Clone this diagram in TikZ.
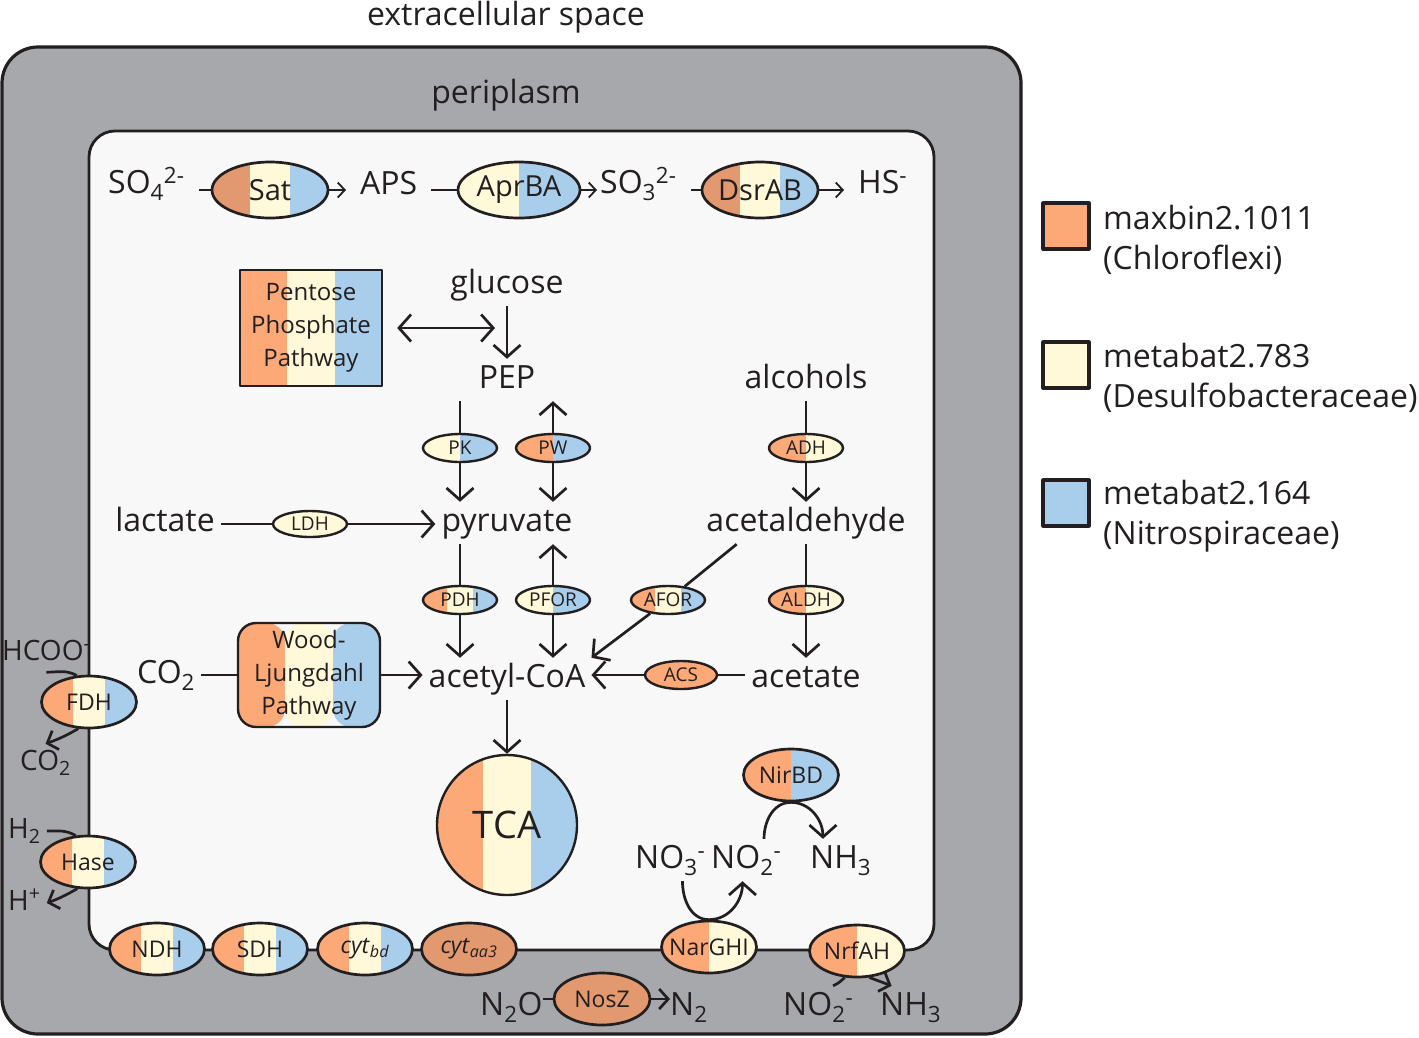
\documentclass[tikz,border=0pt]{standalone}
\usepackage{fontspec}
\setmainfont{Open Sans}
\usepackage{tikz}
\usetikzlibrary{arrows.meta}
\usetikzlibrary{shapes.geometric}
\usetikzlibrary{calc}
\definecolor{org}{HTML}{FCA877}
\definecolor{orgd}{HTML}{E3996F}
\definecolor{crm}{HTML}{FFF8D9}
\definecolor{blu}{HTML}{A9CEEC}
\definecolor{peri}{HTML}{A7A8AB}
\definecolor{cyto}{HTML}{F8F8F8}
\definecolor{ink}{HTML}{231F20}
\newcommand{\band}[3]{\fill[#3] ($(path picture bounding box.south west)!#1!(path picture bounding box.south east)$) rectangle ($(path picture bounding box.north west)!#2!(path picture bounding box.north east)$);}
\newcommand{\sbs}[1]{\textsubscript{#1}}
\newcommand{\sps}[1]{\textsuperscript{#1}}
\tikzset{lb/.style={font=\fontsize{32}{36}\selectfont, text height=23pt, text depth=7pt, inner sep=6pt, anchor=base}}
\tikzset{tp/.style={lb, inner xsep=14pt, anchor=base west}}
\tikzset{sm/.style={font=\fontsize{28}{32}\selectfont, text height=20pt, text depth=6pt, inner sep=6pt, anchor=base west}}
\tikzset{en/.style={ellipse, draw=ink, line width=2.7pt, inner xsep=-8pt, inner ysep=-4pt}}
\tikzset{big/.style={en, minimum width=116, minimum height=56, font=\fontsize{29}{30}\selectfont}}
\tikzset{mem/.style={en, minimum width=95, minimum height=52, font=\fontsize{23}{24}\selectfont}}
\tikzset{sml/.style={en, line width=2.4pt, minimum width=74, minimum height=28, font=\fontsize{19}{20}\selectfont}}
\tikzset{box/.style={draw=ink, line width=2.4pt, minimum width=142, align=center, font=\fontsize{24}{33}\selectfont}}
\tikzset{ocb/.style={path picture={\band{0}{0.33}{org}\band{0.33}{0.67}{crm}\band{0.67}{1}{blu}}}}
\tikzset{dcb/.style={path picture={\band{0}{0.33}{orgd}\band{0.33}{0.67}{crm}\band{0.67}{1}{blu}}}}
\tikzset{oc/.style={path picture={\band{0}{0.5}{org}\band{0.5}{1}{crm}}}}
\tikzset{ob/.style={path picture={\band{0}{0.5}{org}\band{0.5}{1}{blu}}}}
\tikzset{cb/.style={path picture={\band{0}{0.5}{crm}\band{0.5}{1}{blu}}}}
\tikzset{ln/.style={line width=2.7pt}}
\tikzset{ar/.style={line width=2.7pt, -{Straight Barb[length=12pt,width=27pt]}}}
\tikzset{dar/.style={line width=2.7pt, {Straight Barb[length=12pt,width=27pt]}-{Straight Barb[length=12pt,width=27pt]}}}
\tikzset{mar/.style={line width=2.7pt, -{Straight Barb[length=9pt,width=20pt]}}}
\tikzset{sln/.style={line width=1.8pt}}
\tikzset{sar/.style={line width=1.8pt, -{Straight Barb[length=7pt,width=15pt]}}}

\begin{document}
\begin{tikzpicture}[line join=round,x=1pt,y=-1pt,color=ink]
  \useasboundingbox (0,0) rectangle (1419,1037);
  \draw[fill=peri, line width=3.2pt, rounded corners=36pt] (2,47) rectangle (1021,1034);
  \draw[fill=cyto, line width=2.8pt, rounded corners=26pt] (89,131) rectangle (934,950);
  \node[lb] (ecs) at (506,25) {extracellular space};
  \node[lb] (prp) at (506,103) {periplasm};

  \node[tp] (SO4) at (94,193) {SO\sbs{4}\sps{2-}};
  \node[big, dcb] (Sat) at (270,190) {Sat}
    edge [sln] (SO4.east |- Sat);
  \node[tp] (APS) at (346,194) {APS};
  \draw[sar] (Sat) -- (APS.west |- Sat);
  \node[big, cb, minimum width=122] (Apr) at (519,190) {AprBA}
    edge [sln] (APS.east |- Apr);
  \node[tp] (SO3) at (586,193) {SO\sbs{3}\sps{2-}};
  \draw[sar] (Apr) -- ([xshift=11pt]SO3.west |- Apr);
  \node[big, dcb] (Dsr) at (760,190) {DsrAB}
    edge [sln] (SO3.east |- Dsr);
  \node[tp] (HS) at (844,193) {HS\sps{-}};
  \draw[sar] (Dsr) -- (HS.west |- Dsr);

  \node[lb] (glc) at (507,293) {glucose};
  \node[lb] (PEP) at (507,388) {PEP};
  \draw[ar] (glc) -- (PEP);
  \node[box, ocb, minimum height=116] (PPP) at (311,328) {Pentose\\Phosphate\\Pathway};
  \draw[dar] ([xshift=14pt]PPP.east) -- ([xshift=-12pt]glc.south |- PPP.east);
  \node[lb] (alc) at (806,388) {alcohols};
  \node[sml, cb] (PK) at (460,448) {PK};
  \node[sml, ob] (PW) at (553,448) {PW};
  \node[sml, oc] (ADH) at (806,448) {ADH};
  \node[lb] (pyr) at (507,531) {pyruvate};
  \node[lb] (acald) at (806,531) {acetaldehyde};
  \node[lb] (lac) at (165,531) {lactate};
  \node[sml, fill=crm, minimum height=26] (LDH) at (310,524) {LDH};
  \draw[ln] (PK |- PEP.south) -- (PK);
  \draw[ar] (PK) -- (PK |- pyr.north);
  \draw[ar] (PW) -- (PW |- PEP.south);
  \draw[ar] (PW) -- (PW |- pyr.north);
  \draw[ln] (alc) -- (ADH);
  \draw[ar] (ADH) -- (acald);
  \draw[ln] (lac.east |- LDH) -- (LDH);
  \draw[ar] (LDH) -- (pyr.west |- LDH);

  \node[sml, ocb] (PDH) at (460,600) {PDH};
  \node[sml, cb] (PFOR) at (553,600) {PFOR};
  \node[sml, ocb] (AFOR) at (668,600) {AFOR};
  \node[sml, oc] (ALDH) at (806,600) {ALDH};
  \node[lb] (acCoA) at (507,687) {acetyl-CoA};
  \node[lb] (acet) at (806,687) {acetate};
  \node[sml, fill=org, minimum width=72] (ACS) at (681,675) {ACS};
  \draw[ln] (PDH |- pyr.south) -- (PDH);
  \draw[ar] (PDH) -- (PDH |- acCoA.north);
  \draw[ar] (PFOR) -- (PFOR |- pyr.south);
  \draw[ar] (PFOR) -- (PFOR |- acCoA.north);
  \draw[ln] (acald.-163) -- (AFOR);
  \draw[ar] (AFOR) -- (acCoA.north east);
  \draw[ln] (acald) -- (ALDH);
  \draw[ar] (ALDH) -- (acet);
  \draw[ln] (acet.west |- ACS) -- (ACS);
  \draw[ar] (ACS) -- (acCoA.east |- ACS);

  \node[lb, anchor=base west] (CO2) at (131,683) {CO\sbs{2}};
  \node[box, ocb, rounded corners=18pt, minimum height=104] (WLP) at (309,675) {Wood-\\Ljungdahl\\Pathway};
  \draw[ln] (CO2.east |- WLP) -- (WLP);
  \draw[ar] (WLP) -- (acCoA.west |- WLP);
  \node[circle, draw=ink, line width=2.4pt, ocb, minimum size=140, inner sep=0pt, font=\fontsize{38}{40}\selectfont] (TCA) at (507,825) {TCA};
  \draw[ar] (acCoA) -- (TCA);

  \node[sm] (HCOO) at (-4,660) {HCOO\sps{-}};
  \node[mem, ocb] (FDH) at (89,702) {FDH};
  \node[sm] (CO2b) at (14,770) {CO\sbs{2}};
  \draw[ln] (HCOO.south) to[out=0,in=150] (FDH.115);
  \draw[mar] (FDH.-112) to[out=-150,in=20] (CO2b.north);
  \node[sm] (H2) at (2,838) {H\sbs{2}};
  \node[mem, ocb] (Hase) at (88,862) {Hase};
  \node[sm] (Hp) at (2,910) {H\sps{+}};
  \draw[ln] (H2.east) to[out=0,in=150] (Hase.115);
  \draw[mar] (Hase.-112) to[out=-150,in=20] (Hp.east);

  \node[mem, ocb] (NDH) at (157,949) {NDH};
  \node[mem, ocb] (SDH) at (260,949) {SDH};
  \node[mem, ocb] (cytbd) at (365,949) {\textit{cyt}\sbs{\textit{bd}}};
  \node[mem, fill=orgd] (cytaa) at (469,949) {\textit{cyt}\sbs{\textit{aa3}}};
  \node[mem, oc] (NarGHI) at (709,947) {NarGHI};
  \node[mem, oc] (NrfAH) at (857,951) {NrfAH};
  \node[mem, fill=orgd, minimum width=96] (NosZ) at (602,999) {NosZ};
  \node[lb, anchor=base west, inner xsep=0pt] (N2O) at (480,1015) {N\sbs{2}O};
  \node[lb, anchor=base west, inner xsep=0pt] (N2) at (670,1015) {N\sbs{2}};
  \draw[ln] (N2O.east |- NosZ) -- (NosZ);
  \draw[mar] (NosZ) -- (N2.west |- NosZ);
  \node[lb, anchor=base west] (NO2c) at (777,1015) {NO\sbs{2}\sps{-}};
  \node[lb, anchor=base west] (NH3c) at (874,1015) {NH\sbs{3}};
  \draw[ln] (NrfAH.-115) to[bend left=10] (NO2c.55);
  \draw[mar] (NrfAH.-65) -- (NH3c.132);

  \node[lb, anchor=base west] (NO3) at (629,868) {NO\sbs{3}\sps{-}};
  \node[lb, anchor=base west] (NO2) at (705,868) {NO\sbs{2}\sps{-}};
  \node[lb, anchor=base west] (NH3) at (804,868) {NH\sbs{3}};
  \node[mem, ob] (NirBD) at (791,775) {NirBD};
  \draw[ar] (NO3.-60) to[out=-90,in=180] (NarGHI.north) to[out=0,in=-90] (NO2.-100);
  \draw[ar] (NO2.50) to[out=90,in=180] (NirBD.south) to[out=0,in=90] (NH3.130);

  \node[draw=ink, line width=3.2pt, fill=org, minimum size=46, inner sep=0pt] (K1) at (1066,226) {};
  \node[anchor=west, align=left, inner sep=3pt, font=\fontsize{32}{40}\selectfont] (L1) at (1100,240) {maxbin2.1011\\(Chloroflexi)};
  \node[draw=ink, line width=3.2pt, fill=crm, minimum size=46, inner sep=0pt] (K2) at (1066,365) {};
  \node[anchor=west, align=left, inner sep=3pt, font=\fontsize{32}{40}\selectfont] (L2) at (1100,378) {metabat2.783\\(Desulfobacteraceae)};
  \node[draw=ink, line width=3.2pt, fill=blu, minimum size=46, inner sep=0pt] (K3) at (1066,503) {};
  \node[anchor=west, align=left, inner sep=3pt, font=\fontsize{32}{40}\selectfont] (L3) at (1100,516) {metabat2.164\\(Nitrospiraceae)};
\end{tikzpicture}
\end{document}
